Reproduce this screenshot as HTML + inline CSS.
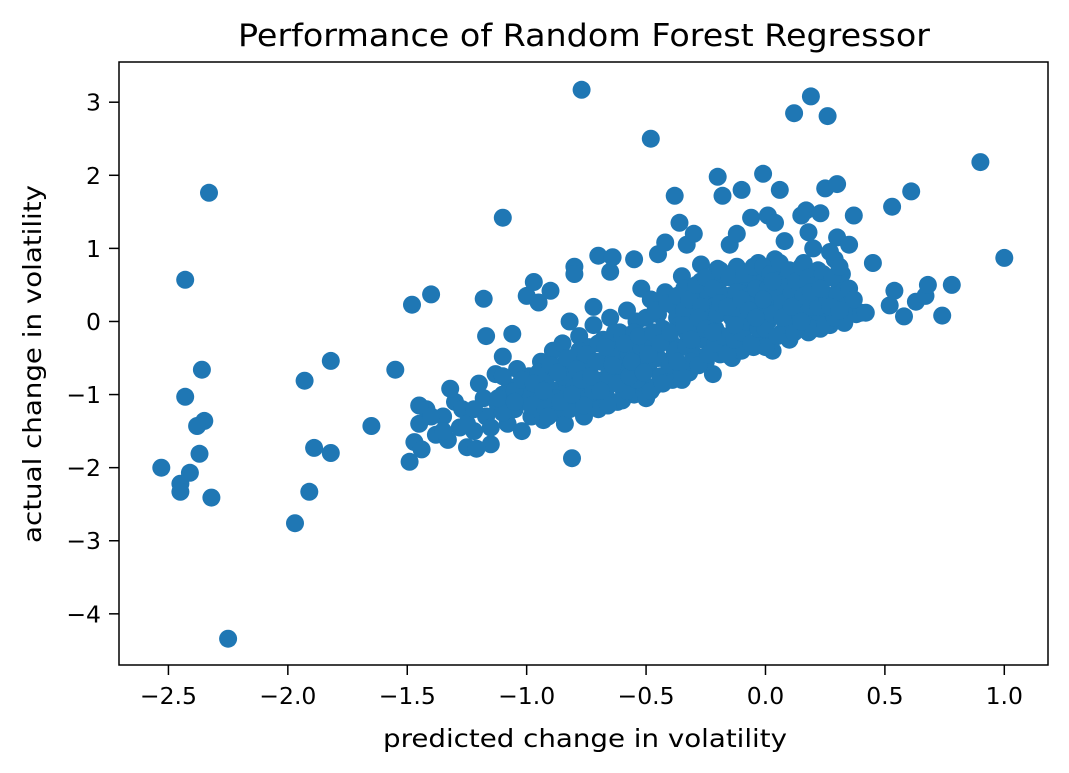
<!DOCTYPE html>
<html><head><meta charset="utf-8"><style>
html,body{margin:0;padding:0;background:#fff;}
svg{display:block;font-family:"DejaVu Sans","Liberation Sans",sans-serif;}
</style></head><body>
<svg id="chart" width="1069" height="773" viewBox="0 0 1069 773" xmlns="http://www.w3.org/2000/svg">
<rect x="0" y="0" width="1069" height="773" fill="#fff"/>
<text x="584" y="46" text-anchor="middle" font-size="31" fill="#000" textLength="692" lengthAdjust="spacingAndGlyphs">Performance of Random Forest Regressor</text>
<g id="points"></g>
<g id="xticks"></g>
<g id="yticks"></g>
<rect x="119" y="62" width="929" height="603" fill="none" stroke="#000" stroke-width="1.5"/>
<text x="585" y="747" text-anchor="middle" font-size="25" fill="#000" textLength="404" lengthAdjust="spacingAndGlyphs">predicted change in volatility</text>
<text transform="translate(41,364) rotate(-90)" text-anchor="middle" font-size="25" fill="#000" textLength="358" lengthAdjust="spacingAndGlyphs">actual change in volatility</text>
</svg>
<script>
const xTicks = [-2.5,-2.0,-1.5,-1.0,-0.5,0.0,0.5,1.0];
const xTickLabels = ["\u22122.5","\u22122.0","\u22121.5","\u22121.0","\u22120.5","0.0","0.5","1.0"];
const yTicks = [3,2,1,0,-1,-2,-3,-4];
const yTickLabels = ["3","2","1","0","\u22121","\u22122","\u22123","\u22124"];
const predicted = [
-2.53,-2.45,-2.45,-2.41,-2.32,-2.25,-2.33,-2.43,-2.43,-2.36,-2.35,-2.38,-2.37,
-1.97,-1.91,-1.89,-1.82,-1.93,-1.82,-1.65,-1.55,-1.48,-1.40,
-0.77,-0.48,-1.10,0.19,0.12,0.26,-0.81,-1.49,
-1.47,-1.45,-1.42,-1.44,-1.38,
-1.35,-1.33,-1.30,-1.28,-1.32,-1.25,-1.27,
-1.22,-1.20,-1.18,-1.17,-1.15,-1.13,-1.12,-1.21,-1.18,-1.17,
-1.10,-1.08,-1.07,-1.05,-1.04,-1.02,-1.00,-0.99,-0.98,-1.06,-1.00,-0.97,
-0.95,-0.94,-0.93,-0.92,-0.90,-0.89,-0.88,-0.87,-0.86,-0.85,-0.84,-0.83,-0.95,-0.90,-0.82,-0.80,-0.80,
-0.80,-0.79,-0.78,-0.77,-0.76,-0.75,-0.74,-0.73,-0.72,-0.71,-0.70,-0.69,-0.68,-0.70,-0.65,-0.64,-0.72,
-0.67,-0.66,-0.65,-0.64,-0.63,-0.62,-0.61,-0.60,-0.59,-0.58,-0.57,-0.56,-0.55,-0.54,-0.53,-0.55,-0.52,-0.60,
-0.51,-0.50,-0.49,-0.48,-0.47,-0.46,-0.45,-0.44,-0.43,-0.42,-0.41,-0.40,-0.39,-0.38,-0.37,-0.45,-0.42,-0.36,-0.38,-0.35,-0.33,
-0.36,-0.35,-0.34,-0.33,-0.32,-0.31,-0.30,-0.29,-0.28,-0.27,-0.26,-0.25,-0.24,-0.23,-0.22,-0.30,-0.27,-0.22,-0.20,
-0.21,-0.20,-0.19,-0.18,-0.17,-0.16,-0.15,-0.14,-0.13,-0.12,-0.11,-0.10,-0.09,-0.08,-0.07,-0.15,-0.12,-0.10,-0.18,-0.20,-0.06,
-0.05,-0.04,-0.03,-0.02,-0.01,0.00,0.01,0.02,0.03,0.04,0.05,0.06,0.07,0.08,-0.01,0.01,0.06,0.04,0.08,
0.09,0.10,0.11,0.12,0.13,0.14,0.15,0.16,0.17,0.18,0.19,0.20,0.21,0.22,0.17,0.15,0.18,0.23,0.20,0.25,
0.23,0.24,0.25,0.26,0.27,0.28,0.29,0.30,0.31,0.32,0.33,0.34,0.36,0.38,0.30,0.30,0.35,0.32,0.27,
0.37,0.45,0.52,0.53,0.54,0.58,0.61,0.63,0.67,0.68,0.74,0.78,0.90,1.00,0.40,-0.10,-0.25,0.00,
-0.50,-0.35,-0.20,-0.05,0.10,-0.60,-0.80,-0.95,-1.10,-1.45
];
const actual = [
-2.00,-2.22,-2.33,-2.07,-2.41,-4.34,1.76,0.57,-1.03,-0.66,-1.36,-1.43,-1.81,
-2.76,-2.33,-1.73,-1.80,-0.81,-0.54,-1.43,-0.66,0.23,0.37,
3.17,2.50,1.42,3.08,2.85,2.81,-1.87,-1.92,
-1.65,-1.40,-1.20,-1.75,-1.55,
-1.30,-1.62,-1.10,-1.45,-0.92,-1.72,-1.20,
-1.50,-0.85,-1.05,-1.30,-1.68,-0.72,-1.15,-1.74,0.31,-0.20,
-0.48,-1.40,-0.90,-1.20,-0.65,-1.50,-1.00,-0.75,-1.30,-0.17,0.35,0.54,
-1.05,-0.55,-1.35,-0.80,-1.15,-0.40,-0.95,-1.25,-0.62,-0.30,-1.40,-0.85,0.26,0.42,0.00,0.75,0.65,
-1.10,-0.50,-0.20,-0.95,-1.30,-0.70,-0.35,-1.05,-0.05,-0.85,-1.20,-0.55,-0.25,0.90,0.68,0.88,0.20,
-1.00,-0.60,0.05,-0.80,-0.35,-1.10,-0.15,-0.90,-0.50,0.15,-0.70,-0.30,-1.00,0.00,-0.55,0.85,0.45,-1.08,
-0.85,-0.20,-0.65,0.30,-0.90,-0.40,0.10,-0.75,-0.10,0.40,-0.55,-0.25,-0.80,0.20,0.05,0.92,1.08,1.35,1.72,0.62,1.05,
-0.60,-0.35,0.45,-0.15,-0.70,0.10,-0.45,0.30,-0.20,0.55,-0.50,0.00,0.35,-0.35,0.20,1.20,0.78,-0.72,0.72,
-0.10,0.50,-0.45,0.15,0.65,-0.25,0.35,-0.50,0.05,0.75,-0.30,0.45,-0.10,0.25,0.60,1.05,1.20,1.80,1.72,1.98,1.42,
-0.35,0.10,0.80,0.40,-0.20,0.60,0.00,0.30,-0.40,0.85,0.15,0.50,-0.15,0.70,2.02,1.45,1.80,1.35,1.10,
0.35,-0.25,0.05,0.60,0.25,-0.10,0.45,0.80,0.10,-0.15,0.55,0.30,0.00,0.70,1.52,1.45,1.22,1.48,1.00,1.82,
-0.10,0.40,0.15,0.60,-0.05,0.35,0.85,0.10,0.50,0.25,-0.02,0.40,0.18,0.10,1.88,1.15,1.05,0.65,0.95,
1.45,0.80,0.22,1.57,0.42,0.07,1.78,0.27,0.35,0.50,0.08,0.50,2.18,0.87,0.12,-0.40,-0.55,-0.35,
-1.05,-0.80,-0.35,0.20,0.20,-0.40,-0.60,-0.90,-1.00,-1.15
];
const predictedFill = [
-1.40,-1.35,-1.25,-1.15,-1.10,-1.10,-1.05,-0.98,-0.95,-0.92,-0.90,-0.88,-0.85,-0.82,-0.80,-0.78,-0.76,-0.74,-0.72,-0.70,
-0.68,-0.66,-0.65,-0.63,-0.62,-0.60,-0.58,-0.57,-0.55,-0.54,-0.52,-0.50,-0.50,-0.48,-0.47,-0.46,-0.45,-0.43,-0.42,-0.41,
-0.40,-0.38,-0.37,-0.36,-0.35,-0.34,-0.33,-0.32,-0.31,-0.30,-0.29,-0.28,-0.27,-0.26,-0.25,-0.24,-0.23,-0.22,-0.21,-0.20,
-0.19,-0.18,-0.17,-0.16,-0.15,-0.14,-0.13,-0.12,-0.11,-0.10,-0.09,-0.08,-0.07,-0.06,-0.05,-0.04,-0.03,-0.02,-0.01,0.00,
0.01,0.02,0.03,0.04,0.05,0.06,0.07,0.08,0.09,0.10,0.11,0.12,0.13,0.14,0.15,0.16,0.17,0.18,0.19,0.20,
0.21,0.22,0.24,0.25,0.26,0.28,0.29,0.30,0.31,0.33,0.35,0.37,0.42
];
const actualFill = [
-1.30,-1.50,-1.40,-1.45,-1.25,-0.75,-0.95,-1.15,-0.70,-1.20,-0.60,-1.05,-0.75,-1.20,-0.90,-0.40,-1.15,-0.60,-0.95,-0.30,
-0.80,-1.15,-0.45,-0.15,-0.70,-0.20,-0.95,-0.45,-0.15,-0.80,-0.35,0.05,-0.60,-0.95,-0.30,0.15,-0.50,-0.85,-0.20,0.25,
-0.60,-0.40,0.35,-0.05,-0.70,0.15,-0.35,0.30,-0.55,-0.10,0.50,-0.60,0.20,-0.25,0.60,-0.45,0.05,0.45,-0.30,0.10,
0.70,-0.20,0.35,-0.45,0.60,0.05,-0.25,0.40,0.15,-0.15,0.65,0.00,0.35,-0.30,0.75,0.45,-0.10,0.15,0.75,-0.10,
0.45,0.65,0.10,0.35,-0.20,0.80,0.25,0.50,-0.05,0.70,0.40,-0.15,0.55,0.15,0.75,0.35,-0.05,0.60,0.20,-0.10,
0.50,0.20,0.65,-0.05,0.30,0.60,0.05,0.35,0.75,0.20,0.45,0.30,0.12
];
const predictedFill2 = [
-1.22,-1.12,-1.05,-1.02,-0.97,-0.93,-0.91,-0.87,-0.86,-0.83,-0.81,-0.79,-0.77,-0.75,-0.73,-0.71,-0.69,-0.67,-0.64,-0.62,
-0.59,-0.57,-0.56,-0.53,-0.51,-0.49,-0.47,-0.44,-0.40,-0.37,-0.34,-0.31,-0.28,-0.25,-0.22,-0.19,-0.16,-0.13,-0.10,-0.07,
-0.04,-0.01,0.03,0.07,0.11,0.15,0.19,0.23,0.27,0.31
];
const actualFill2 = [
-1.20,-1.05,-1.10,-0.80,-0.85,-0.95,-1.30,-0.70,-1.10,-0.50,-1.00,-0.65,-0.80,-0.45,-0.75,-0.55,-0.95,-0.35,-0.60,-0.85,
-0.30,-0.75,-0.55,-0.20,-0.70,-0.45,-0.15,-0.30,-0.15,-0.55,-0.05,-0.25,0.05,-0.10,-0.15,0.25,0.20,-0.05,0.30,0.15,
0.05,0.30,0.55,0.05,0.20,0.00,0.40,0.45,0.20,0.15
];
const X0=119, X1=1048, XMIN=-2.707, XMAX=1.183;
const Y0=62, Y1=665, YMIN=-4.70, YMAX=3.55;
function sx(v){return X0+(v-XMIN)/(XMAX-XMIN)*(X1-X0);}
function sy(v){return Y0+(YMAX-v)/(YMAX-YMIN)*(Y1-Y0);}
const NS="http://www.w3.org/2000/svg";
const pts=document.getElementById('points');
function drawPoints(xs, ys){
  const n=Math.min(xs.length,ys.length);
  for(let i=0;i<n;i++){
    const c=document.createElementNS(NS,'circle');
    c.setAttribute('cx',sx(xs[i]).toFixed(1));
    c.setAttribute('cy',sy(ys[i]).toFixed(1));
    c.setAttribute('r','9');
    c.setAttribute('fill','#1f77b4');
    
    
    pts.appendChild(c);
  }
}
drawPoints(predicted, actual);
drawPoints(predictedFill, actualFill);
drawPoints(predictedFill2, actualFill2);
const xg=document.getElementById('xticks');
xTicks.forEach((t,i)=>{
  const x=sx(t);
  const l=document.createElementNS(NS,'line');
  l.setAttribute('x1',x);l.setAttribute('x2',x);l.setAttribute('y1',665);l.setAttribute('y2',675);
  l.setAttribute('stroke','#000');l.setAttribute('stroke-width','1.5');
  
  
  xg.appendChild(l);
  const tx=document.createElementNS(NS,'text');
  tx.setAttribute('x',x);tx.setAttribute('y',704);tx.setAttribute('text-anchor','middle');tx.setAttribute('font-size','23.5');
  tx.textContent=xTickLabels[i];
  
  
  xg.appendChild(tx);
});
const yg=document.getElementById('yticks');
yTicks.forEach((t,i)=>{
  const y=sy(t);
  const l=document.createElementNS(NS,'line');
  l.setAttribute('x1',109);l.setAttribute('x2',119);l.setAttribute('y1',y);l.setAttribute('y2',y);
  l.setAttribute('stroke','#000');l.setAttribute('stroke-width','1.5');
  
  
  yg.appendChild(l);
  const tx=document.createElementNS(NS,'text');
  tx.setAttribute('x',101);tx.setAttribute('y',y+8.5);tx.setAttribute('text-anchor','end');tx.setAttribute('font-size','23.5');
  tx.textContent=yTickLabels[i];
  
  
  yg.appendChild(tx);
});
</script>
</body></html>
